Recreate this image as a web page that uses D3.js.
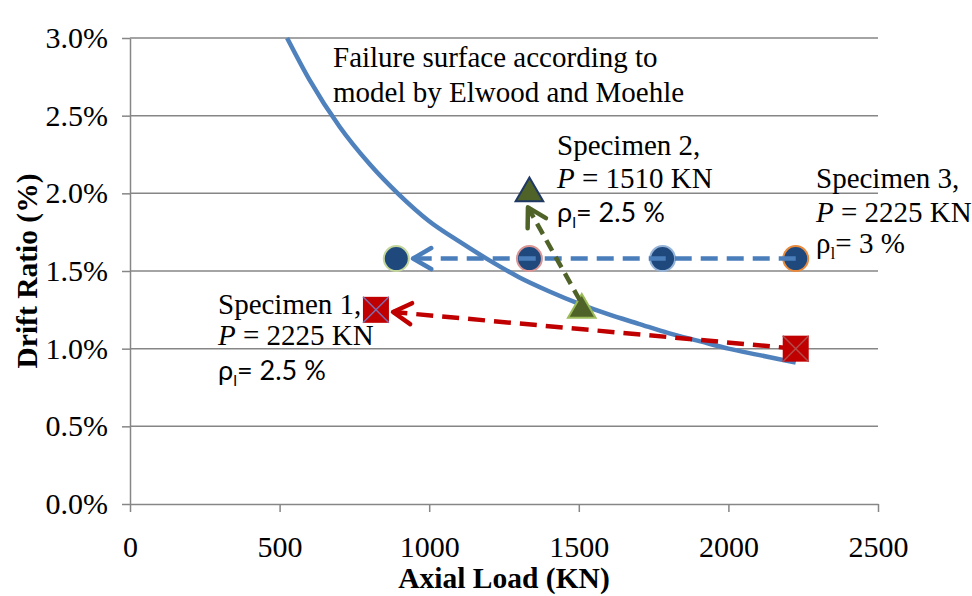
<!DOCTYPE html>
<html>
<head>
<meta charset="utf-8">
<script src="https://cdnjs.cloudflare.com/ajax/libs/d3/7.8.5/d3.min.js"></script>
<style>
  body { margin: 0; background: #fff; }
  svg { display: block; }
</style>
</head>
<body>
<svg id="chart" width="972" height="596"></svg>
<script>
// Failure surface (Elwood & Moehle)
const surfaceLoad = [525, 600, 700, 800, 900, 1000, 1100, 1200, 1300, 1400, 1500, 1600, 1700, 1800, 1900, 2000, 2100, 2225];
const surfaceDrift = [3.00, 2.73, 2.43, 2.19, 1.99, 1.82, 1.69, 1.57, 1.46, 1.37, 1.29, 1.22, 1.16, 1.10, 1.05, 1.00, 0.96, 0.91];

// Specimen 3 (circles)
const circleLoad = [2225, 1780, 1335, 890];
const circleDrift = [1.58, 1.58, 1.58, 1.58];
const circleOutline = ["#E98A3C", "#95B3D7", "#D99694", "#C3D69B"];

// Specimen 2 (triangles)
const triangleLoad = [1510, 1335];
const triangleDrift = [1.25, 2.0];
const triangleOutline = ["#9BBB59", "#1F3864"];

// Specimen 1 (squares)
const squareLoad = [2225, 822];
const squareDrift = [1.0, 1.25];
const squareCross = ["#B24A4A", "#7E6BB0"];

// Arrows: [fromLoad, fromDrift, toLoad, toDrift]
const arrowRed = [2225, 1.0, 879, 1.236];
const arrowBlue = [2225, 1.58, 946, 1.58];
const arrowGreen = [1504, 1.31, 1330, 1.91];

const xTicks = [0, 500, 1000, 1500, 2000, 2500];
const yTicks = [0, 0.5, 1.0, 1.5, 2.0, 2.5, 3.0];

const COLORS = {
  grid: "#868686",
  curve: "#4F81BD",
  blue: "#4A7EBB",
  red: "#C00000",
  green: "#4F6228",
  navy: "#1F497D",
};

const SERIF = "'Liberation Serif', 'Times New Roman', serif";
const SANS = "Lato, 'Open Sans', sans-serif";

const svg = d3.select("#chart");

const x = d3.scaleLinear().domain([0, 2500]).range([130, 878]);
const y = d3.scaleLinear().domain([0, 3]).range([504, 38]);

// gridlines
svg.append("g")
  .selectAll("line")
  .data(yTicks.filter((d) => d > 0))
  .join("line")
  .attr("x1", x(0))
  .attr("x2", x(2500))
  .attr("y1", (d) => y(d))
  .attr("y2", (d) => y(d))
  .attr("stroke", COLORS.grid)
  .attr("stroke-width", 1.5);

// axes
const yAxis = svg.append("g")
  .attr("transform", `translate(${x(0)},0)`)
  .call(d3.axisLeft(y).tickValues(yTicks).tickSize(8).tickSizeOuter(0).tickPadding(14)
    .tickFormat((d) => d.toFixed(1) + "%"));

const xAxis = svg.append("g")
  .attr("transform", `translate(0,${y(0)})`)
  .call(d3.axisBottom(x).tickValues(xTicks).tickSize(8).tickSizeOuter(0).tickPadding(24)
    .tickFormat(d3.format("d")));

[xAxis, yAxis].forEach((ax) => {
  ax.attr("font-family", null).attr("font-size", null);
  ax.select(".domain").attr("stroke", COLORS.grid).attr("stroke-width", 1.5);
  ax.selectAll(".tick line").attr("stroke", COLORS.grid).attr("stroke-width", 1.5);
  ax.selectAll(".tick text")
    .attr("fill", "#000")
    .style("font-family", SERIF)
    .style("font-size", "30px");
});

// axis titles
svg.append("text")
  .attr("x", (x(0) + x(2500)) / 2)
  .attr("y", 588)
  .attr("text-anchor", "middle")
  .style("font-family", SERIF)
  .style("font-size", "29.5px")
  .style("font-weight", "bold")
  .text("Axial Load (KN)");

svg.append("text")
  .attr("transform", `translate(37,${(y(0) + y(3)) / 2}) rotate(-90)`)
  .attr("text-anchor", "middle")
  .style("font-family", SERIF)
  .style("font-size", "29.5px")
  .style("font-weight", "bold")
  .text("Drift Ratio (%)");

// failure surface curve
const surface = surfaceLoad.map((d, i) => [d, surfaceDrift[i]]);
svg.append("path")
  .datum(surface)
  .attr("fill", "none")
  .attr("stroke", COLORS.curve)
  .attr("stroke-width", 4.5)
  .attr("d", d3.line().x((d) => x(d[0])).y((d) => y(d[1])).curve(d3.curveMonotoneX));

function drawArrow(a, color, dash) {
  const x1 = x(a[0]), y1 = y(a[1]), x2 = x(a[2]), y2 = y(a[3]);
  const ang = Math.atan2(y1 - y2, x1 - x2);
  const len = 21, spread = Math.PI / 6;
  const g = svg.append("g")
    .attr("stroke", color)
    .attr("stroke-width", 4.5)
    .attr("fill", "none");
  g.append("line")
    .attr("x1", x1).attr("y1", y1)
    .attr("x2", x2).attr("y2", y2)
    .attr("stroke-dasharray", dash);
  g.append("path")
    .attr("stroke-linejoin", "round")
    .attr("stroke-linecap", "round")
    .attr("d", `M${x2 + len * Math.cos(ang + spread)},${y2 + len * Math.sin(ang + spread)}`
      + `L${x2},${y2}`
      + `L${x2 + len * Math.cos(ang - spread)},${y2 + len * Math.sin(ang - spread)}`);
}

// specimen 1: red arrow then squares
drawArrow(arrowRed, COLORS.red, "17,9");

const sq = 13;
const squares = svg.append("g")
  .selectAll("g")
  .data(squareLoad.map((d, i) => ({ load: d, drift: squareDrift[i], cross: squareCross[i] })))
  .join("g")
  .attr("transform", (d) => `translate(${x(d.load)},${y(d.drift)})`);
squares.append("rect")
  .attr("x", -sq).attr("y", -sq)
  .attr("width", 2 * sq).attr("height", 2 * sq)
  .attr("fill", COLORS.red);
squares.append("path")
  .attr("d", `M${-sq},${-sq}L${sq},${sq}M${-sq},${sq}L${sq},${-sq}`)
  .attr("stroke", (d) => d.cross)
  .attr("stroke-width", 1.5);

// specimen 3: circles then blue arrow
svg.append("g")
  .selectAll("circle")
  .data(circleLoad.map((d, i) => ({ load: d, drift: circleDrift[i], outline: circleOutline[i] })))
  .join("circle")
  .attr("cx", (d) => x(d.load))
  .attr("cy", (d) => y(d.drift))
  .attr("r", 12.5)
  .attr("fill", COLORS.navy)
  .attr("stroke", (d) => d.outline)
  .attr("stroke-width", 2);

drawArrow(arrowBlue, COLORS.blue, "17,9");

// specimen 2: triangles then green arrow
const tri = d3.symbol().type(d3.symbolTriangle).size(330);
svg.append("g")
  .selectAll("path")
  .data(triangleLoad.map((d, i) => ({ load: d, drift: triangleDrift[i], outline: triangleOutline[i] })))
  .join("path")
  .attr("transform", (d) => `translate(${x(d.load)},${y(d.drift)})`)
  .attr("d", tri)
  .attr("fill", COLORS.green)
  .attr("stroke", (d) => d.outline)
  .attr("stroke-width", 2);

drawArrow(arrowGreen, COLORS.green, "12,7");

// annotations
function serifLine(xPos, yPos, parts) {
  const t = svg.append("text")
    .attr("x", xPos)
    .attr("y", yPos)
    .style("font-family", SERIF)
    .style("font-size", "29px");
  parts.forEach((p) => {
    t.append("tspan").style("font-style", p.italic ? "italic" : "normal").text(p.text);
  });
  return t;
}

function rhoLine(xPos, yPos, value, family, size) {
  const t = svg.append("text")
    .attr("x", xPos)
    .attr("y", yPos)
    .style("font-family", family)
    .style("font-size", size + "px");
  t.append("tspan").text("ρ");
  t.append("tspan").attr("dy", size * 0.22).style("font-size", (size * 0.6) + "px").text("l");
  t.append("tspan").attr("dy", -size * 0.22).text(value);
}

serifLine(333, 67, [{ text: "Failure surface according to" }]);
serifLine(333, 102, [{ text: "model by Elwood and Moehle" }]);

serifLine(557, 155, [{ text: "Specimen 2," }]);
serifLine(557, 188, [{ text: "P", italic: true }, { text: " = 1510 KN" }]);
rhoLine(557, 222, "= 2.5 %", SANS, 27);

serifLine(816, 188, [{ text: "Specimen 3," }]);
serifLine(816, 222, [{ text: "P", italic: true }, { text: " = 2225 KN" }]);
rhoLine(816, 253, "= 3 %", SERIF, 29);

serifLine(218, 314, [{ text: "Specimen 1," }]);
serifLine(218, 345, [{ text: "P", italic: true }, { text: " = 2225 KN" }]);
rhoLine(218, 380, "= 2.5 %", SANS, 27);
</script>
</body>
</html>
